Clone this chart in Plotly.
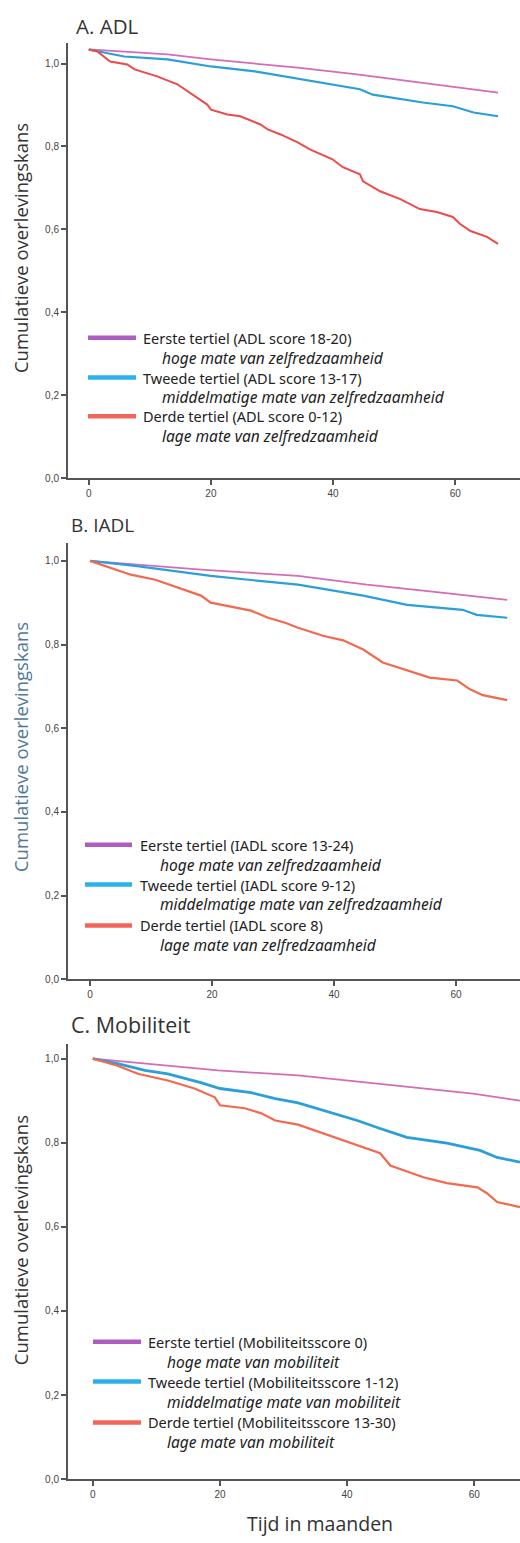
import plotly.graph_objects as go

W, H = 520, 1543

# ---------------- data ----------------
A_pink_t = [0, 12.9, 20, 34.2, 43.9, 54.7, 61.3, 67]
A_pink = [1.034, 1.022, 1.010, 0.990, 0.974, 0.954, 0.942, 0.930]
A_blue_t = [0, 5.8, 12.9, 20, 27.2, 34.2, 39.9, 44.4, 46.5, 54.7, 59.6, 61.3, 63, 67]
A_blue = [1.034, 1.017, 1.010, 0.993, 0.981, 0.964, 0.950, 0.938, 0.925, 0.906, 0.897, 0.889, 0.882, 0.873]
A_red_t = [0, 1.4, 3.5, 6.3, 7.5, 11.2, 14.5, 17.3, 19.4, 20, 22.7, 24.8, 28.1, 29.3, 31.4,
           34.2, 36.2, 39.9, 41.6, 44.4, 44.9, 47.7, 51, 54.2, 57, 59.6, 60.8, 62.5, 65.2, 67]
A_red = [1.034, 1.029, 1.005, 0.998, 0.986, 0.969, 0.950, 0.921, 0.901, 0.889, 0.877, 0.873, 0.853, 0.841, 0.829,
         0.810, 0.793, 0.769, 0.750, 0.733, 0.716, 0.692, 0.673, 0.649, 0.642, 0.630, 0.613, 0.596, 0.582, 0.565]

B_pink_t = [0, 4.6, 18.2, 34.1, 45.4, 54.6, 61.1, 68.4]
B_pink = [1.0, 0.995, 0.979, 0.964, 0.943, 0.929, 0.919, 0.907]
B_blue_t = [0, 7.4, 19.8, 34.1, 44.8, 52, 61.1, 63.4, 68.4]
B_blue = [1.0, 0.988, 0.964, 0.943, 0.917, 0.895, 0.883, 0.871, 0.864]
B_red_t = [0, 3.4, 6.7, 10.7, 14.4, 18.2, 19.8, 23.8, 26.4, 29.2, 32, 34.1, 38.2, 41.5, 44.8,
           48, 52, 55.7, 60.2, 62.3, 64.4, 68.4]
B_red = [1.0, 0.983, 0.967, 0.955, 0.936, 0.917, 0.900, 0.888, 0.881, 0.864, 0.852, 0.840, 0.821, 0.810, 0.788,
         0.757, 0.738, 0.721, 0.714, 0.693, 0.679, 0.667]

C_pink_t = [0, 6.6, 19.7, 32.3, 44, 59.8, 67.2]
C_pink = [1.0, 0.991, 0.972, 0.960, 0.941, 0.917, 0.900]
C_blue_t = [0, 3.9, 8.2, 11.8, 17, 20, 24.9, 28.7, 32.3, 36.2, 41.6, 45.2, 49.4, 55.7, 60.9, 63.6, 67.2]
C_blue = [1.0, 0.988, 0.972, 0.964, 0.943, 0.929, 0.919, 0.905, 0.895, 0.877, 0.853, 0.834, 0.813,
          0.799, 0.782, 0.765, 0.754]
C_red_t = [0, 3.9, 7.1, 11.8, 16, 19.2, 20, 23.9, 26.5, 28.7, 32.3, 36.2, 41.6, 45.2, 46.8, 52,
           55.7, 60.5, 62, 63.6, 67.2]
C_red = [1.0, 0.983, 0.964, 0.948, 0.929, 0.908, 0.889, 0.882, 0.870, 0.853, 0.843, 0.822, 0.794, 0.775,
         0.746, 0.718, 0.704, 0.694, 0.680, 0.659, 0.647]

panel_titles = ["A. ADL", "B. IADL", "C. Mobiliteit"]
y_title = "Cumulatieve overlevingskans"
x_title = "Tijd in maanden"
x_ticks = [0, 20, 40, 60]
y_ticks = [0.0, 0.2, 0.4, 0.6, 0.8, 1.0]

legend_A = [("Eerste tertiel (ADL score 18-20)", "hoge mate van zelfredzaamheid"),
            ("Tweede tertiel (ADL score 13-17)", "middelmatige mate van zelfredzaamheid"),
            ("Derde tertiel (ADL score 0-12)", "lage mate van zelfredzaamheid")]
legend_B = [("Eerste tertiel (IADL score 13-24)", "hoge mate van zelfredzaamheid"),
            ("Tweede tertiel (IADL score 9-12)", "middelmatige mate van zelfredzaamheid"),
            ("Derde tertiel (IADL score 8)", "lage mate van zelfredzaamheid")]
legend_C = [("Eerste tertiel (Mobiliteitsscore 0)", "hoge mate van mobiliteit"),
            ("Tweede tertiel (Mobiliteitsscore 1-12)", "middelmatige mate van mobiliteit"),
            ("Derde tertiel (Mobiliteitsscore 13-30)", "lage mate van mobiliteit")]

# ---------------- styling ----------------
PINK, BLUE = "#d46db4", "#2a9fd8"
RED_A, RED_BC = "#ef4a4a", "#f2694e"
LEG_COLORS = ["#ad5cbf", "#2bb0ea", "#f2665a"]
AX = "#555555"
TXT = "#333333"


def px(x):
    return x / W


def py(y):
    return 1 - y / H


panels = [
    dict(series=[(A_pink_t, A_pink, PINK, 1.8), (A_blue_t, A_blue, BLUE, 2.2), (A_red_t, A_red, RED_A, 2.0)],
         xr=[-3.4, 70.6], yr=[0, 1.05], top=43, bot=480, title_xy=(74, 26), title_size=20.5,
         ytitle_y=249, ytitle_color=TXT, legend=legend_A, leg_y=[339, 379, 418], leg_x=(88, 136),
         text_x=141, ital_x=160),
    dict(series=[(B_pink_t, B_pink, PINK, 1.8), (B_blue_t, B_blue, BLUE, 2.2), (B_red_t, B_red, RED_BC, 2.2)],
         xr=[-3.6, 70.5], yr=[0, 1.043], top=545, bot=983, title_xy=(69, 527), title_size=19,
         ytitle_y=750, ytitle_color="#4f7896", legend=legend_B, leg_y=[848, 888, 929], leg_x=(85, 132),
         text_x=138, ital_x=158),
    dict(series=[(C_pink_t, C_pink, PINK, 1.8), (C_blue_t, C_blue, BLUE, 2.8), (C_red_t, C_red, RED_BC, 2.2)],
         xr=[-3.9, 67.2], yr=[0, 1.035], top=1048, bot=1485, title_xy=(69, 1029), title_size=21.5,
         ytitle_y=1245, ytitle_color=TXT, legend=legend_C, leg_y=[1347, 1387, 1428], leg_x=(93, 141),
         text_x=146, ital_x=165),
]

fig = go.Figure()
annotations = []
shapes = []
layout_axes = {}

for i, p in enumerate(panels):
    n = "" if i == 0 else str(i + 1)
    xa, ya = "x" + n, "y" + n
    for t, v, col, lw in p["series"]:
        fig.add_trace(go.Scatter(x=t, y=v, mode="lines", line=dict(color=col, width=lw),
                                 xaxis=xa, yaxis=ya, showlegend=False, hoverinfo="skip"))
    layout_axes["xaxis" + n] = dict(
        domain=[px(68), 1.0], range=p["xr"], anchor=ya, tickvals=x_ticks,
        showline=True, linecolor=AX, linewidth=2, ticks="outside", ticklen=5, tickwidth=2,
        tickcolor=AX, showgrid=False, zeroline=False,
        tickfont=dict(family="Liberation Sans, Arial", size=10, color="#444444"))
    layout_axes["yaxis" + n] = dict(
        domain=[py(p["bot"]), py(p["top"])], range=p["yr"], anchor=xa, tickvals=y_ticks,
        tickformat=".1f", showline=True, linecolor=AX, linewidth=2, ticks="outside", ticklen=5,
        tickwidth=1.5, tickcolor=AX, showgrid=False, zeroline=False,
        tickfont=dict(family="Liberation Sans, Arial", size=10, color="#444444"))

    tx, ty = p["title_xy"]
    annotations.append(dict(text=panel_titles[i], x=px(tx), y=py(ty), xref="paper", yref="paper",
                            xanchor="left", yanchor="middle", showarrow=False,
                            font=dict(family="Open Sans, Arial", size=p["title_size"], color=TXT)))
    annotations.append(dict(text=y_title, x=px(20), y=py(p["ytitle_y"]), xref="paper", yref="paper",
                            xanchor="center", yanchor="middle", textangle=-90, showarrow=False,
                            font=dict(family="Open Sans, Arial", size=18.5, color=p["ytitle_color"])))
    for k, (main, ital) in enumerate(p["legend"]):
        ly = p["leg_y"][k]
        shapes.append(dict(type="line", xref="paper", yref="paper",
                           x0=px(p["leg_x"][0]), x1=px(p["leg_x"][1]), y0=py(ly), y1=py(ly),
                           line=dict(color=LEG_COLORS[k], width=4.5)))
        annotations.append(dict(text=main, x=px(p["text_x"]), y=py(ly), xref="paper", yref="paper",
                                xanchor="left", yanchor="middle", showarrow=False,
                                font=dict(family="Noto Sans, Arial", size=14.5, color="#222222")))
        annotations.append(dict(text="<i>" + ital + "</i>", x=px(p["ital_x"]), y=py(ly + 20),
                                xref="paper", yref="paper", xanchor="left", yanchor="middle",
                                showarrow=False,
                                font=dict(family="Noto Sans, Arial", size=15.5, color="#222222")))

annotations.append(dict(text=x_title, x=px(320), y=py(1529), xref="paper", yref="paper",
                        xanchor="center", yanchor="middle", showarrow=False,
                        font=dict(family="Open Sans, Arial", size=19.5, color=TXT)))

fig.update_layout(width=W, height=H, margin=dict(l=0, r=0, t=0, b=0),
                  paper_bgcolor="white", plot_bgcolor="white", separators=",.",
                  annotations=annotations, shapes=shapes, **layout_axes)

fig.write_html("out.html", config={"displayModeBar": False},
               post_script="document.body.style.margin='0px';document.body.style.overflow='hidden';")
